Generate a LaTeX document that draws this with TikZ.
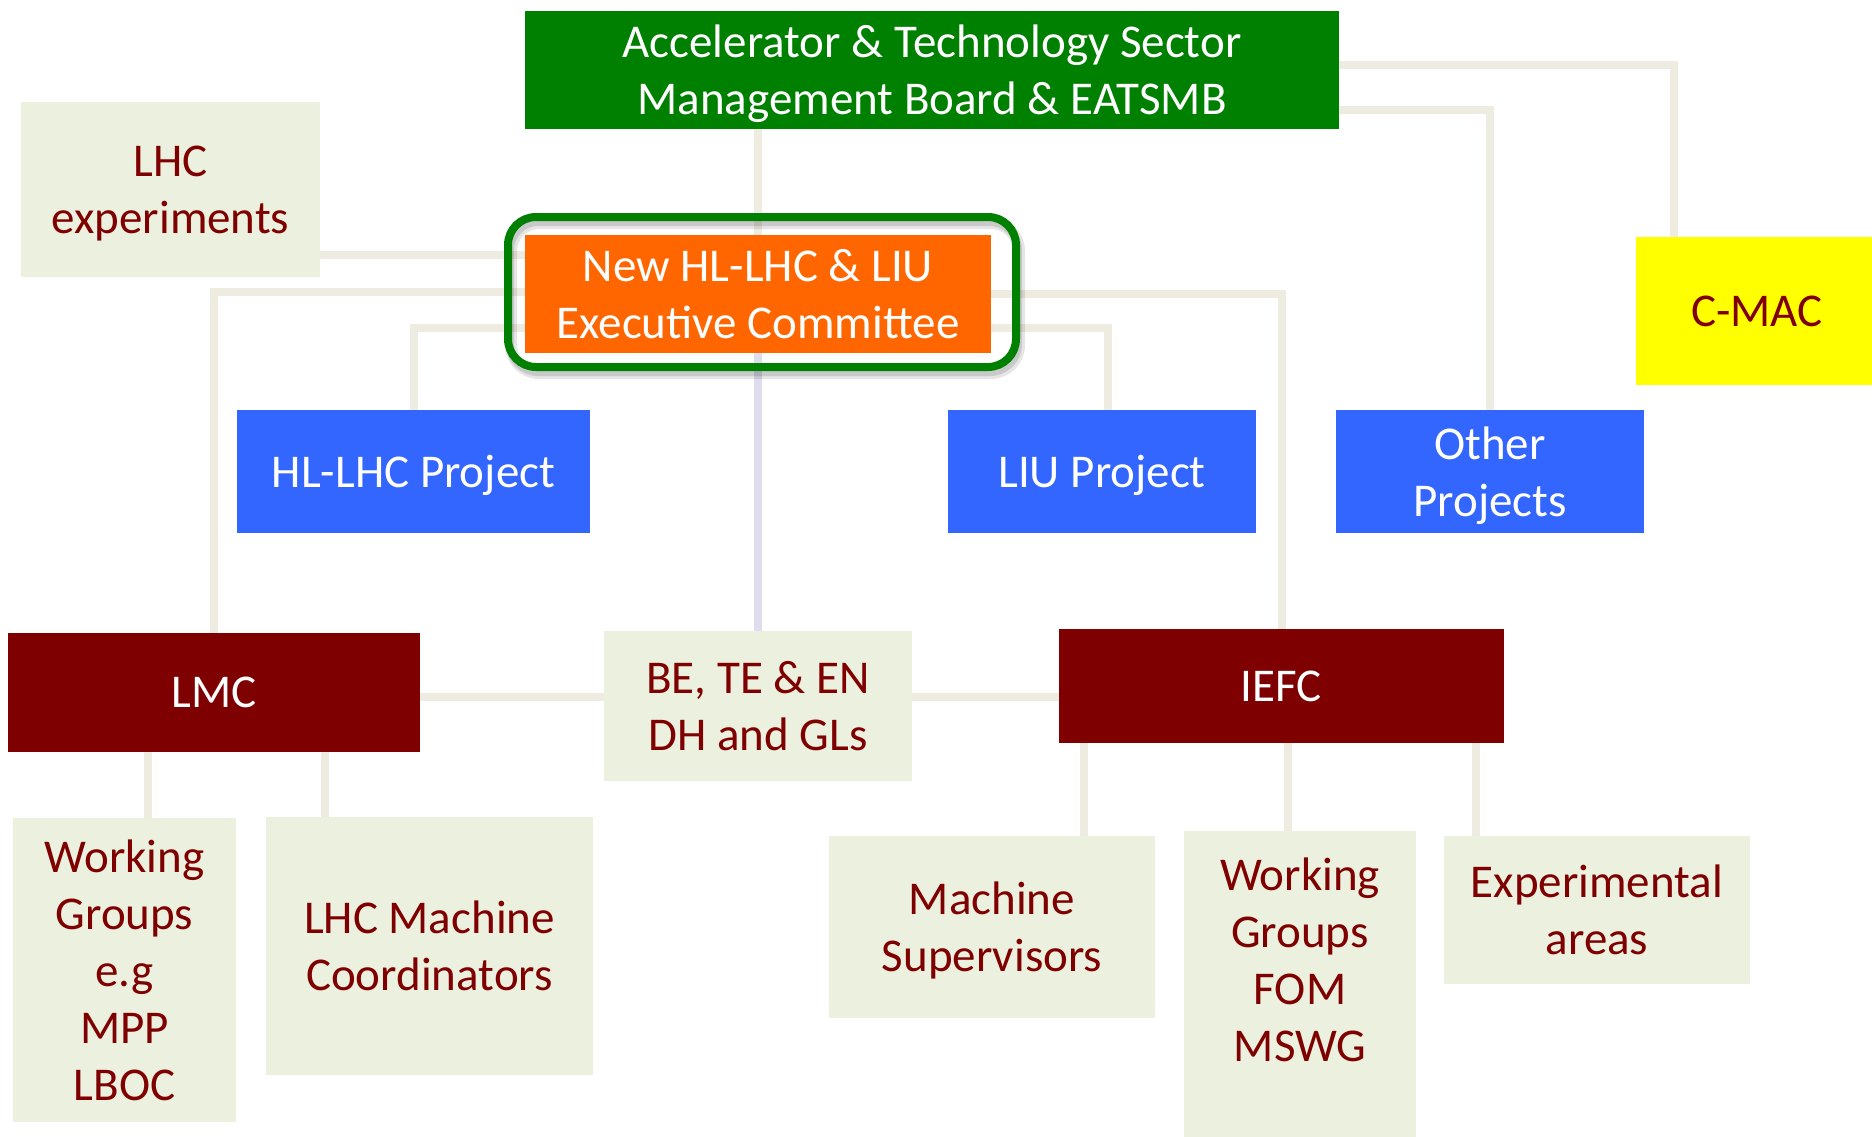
\documentclass[tikz,border=0pt]{standalone}
\usepackage{fontspec}
\setmainfont{Carlito}
\definecolor{conncol}{HTML}{EEECE1}
\definecolor{lavcol}{HTML}{DEDCEE}
\definecolor{lightfill}{HTML}{EBF0DF}
\definecolor{darkred}{HTML}{7F0000}
\definecolor{boardgreen}{HTML}{008000}
\definecolor{execorange}{HTML}{FF6600}
\definecolor{projblue}{HTML}{3366FF}
\definecolor{cmacyellow}{HTML}{FFFF00}
\newcommand\nodescender[1]{\raisebox{0pt}[\height][0pt]{#1}}
\tikzset{
  basebox/.style={rectangle, inner sep=0pt, align=center, font=\fontsize{47}{57}\selectfont},
  lightbox/.style={basebox, fill=lightfill, text=darkred},
  redbox/.style={basebox, fill=darkred, text=white},
  bluebox/.style={basebox, fill=projblue, text=white},
  greenbox/.style={basebox, fill=boardgreen, text=white},
  orangebox/.style={basebox, fill=execorange, text=white},
  conn/.style={draw=conncol, line width=8pt},
  lavconn/.style={draw=lavcol, line width=8pt},
}
\begin{document}
\begin{tikzpicture}[x=1pt,y=-1pt]
\useasboundingbox (0,0) rectangle (1872,1137);
\clip (0,0) rectangle (1872,1137);
\fill[white] (0,0) rectangle (1872,1137);
% helper coordinates
\coordinate (xc) at (1674,0);
\coordinate (hy) at (0,697);
\coordinate (xa) at (148,0);
\coordinate (xb) at (325,0);
\coordinate (xd) at (1084,0);
\coordinate (xe) at (1288,0);
\coordinate (xf) at (1476,0);
\coordinate (xg) at (1108,0);
% boxes
\node[greenbox, minimum width=814, minimum height=118] (green) at (932,70) {Accelerator \& Technology Sector\\\nodescender{Management Board \& EATSMB}};
\node[lightbox, minimum width=299, minimum height=175] (lhcexp) at (170.5,189.5) {LHC\\\nodescender{experiments}};
\node[orangebox, minimum width=466, minimum height=118] (orange) at (758,294) {New HL-LHC \& LIU\\Executive Committee};
\node[basebox, fill=cmacyellow, text=darkred, minimum width=242, minimum height=148] (cmac) at (1757,311) {C-MAC};
\node[bluebox, minimum width=353, minimum height=123] (hllhc) at (413.5,471.5) {\nodescender{HL-LHC Project}};
\node[bluebox, minimum width=308, minimum height=123] (liu) at (1102,471.5) {\nodescender{LIU Project}};
\node[bluebox, minimum width=308, minimum height=123] (other) at (1490,471.5) {Other\\\nodescender{Projects}};
\node[redbox, minimum width=412, minimum height=119] (lmc) at (214,692.5) {LMC};
\node[lightbox, minimum width=308, minimum height=150] (be) at (758,706) {BE, TE \& EN\\DH and GLs};
\node[redbox, minimum width=445, minimum height=114] (iefc) at (1281.5,686) {IEFC};
\node[lightbox, minimum width=223, minimum height=304] (wg1) at (124.5,970) {Working\\Groups\\e.g\\MPP\\LBOC};
\node[lightbox, minimum width=327, minimum height=258] (lhcmc) at (429.5,946) {LHC Machine\\Coordinators};
\node[lightbox, minimum width=326, minimum height=182] (msup) at (992,927) {Machine\\\nodescender{Supervisors}};
\node[lightbox, minimum width=232, minimum height=310] (wg2) at (1300,986) {Working\\Groups\\FOM\\MSWG\\[-5pt]\mbox{}};
\node[lightbox, minimum width=306, minimum height=148] (exp) at (1597,910) {Experimental\\areas};
% connectors
\path[conn] (green.south -| orange.north) -- (orange.north);
\path[conn] ([yshift=5pt]green.east) -| (cmac.north -| xc);
\path[conn] ([yshift=-40pt]green.east) -| (other.north);
\path[conn] ([yshift=-65.5pt]lhcexp.east) -- ([yshift=-65.5pt]lhcexp.east -| orange.west);
\path[conn] ([yshift=2pt]orange.west) -| (lmc.north);
\path[conn] ([yshift=-34pt]orange.west) -| (hllhc.north);
\path[conn] (orange.east) -| (iefc.north);
\path[conn] ([yshift=-34pt]orange.east) -| (liu.north -| xg);
\path[lavconn] (orange.south) -- (be.north);
\path[conn] (lmc.east |- hy) -- (be.west |- hy);
\path[conn] (be.east |- hy) -- (iefc.west |- hy);
\path[conn] (lmc.south -| xa) -- (wg1.north -| xa);
\path[conn] (lmc.south -| xb) -- (lhcmc.north -| xb);
\path[conn] (iefc.south -| xd) -- (msup.north -| xd);
\path[conn] (iefc.south -| xe) -- (wg2.north -| xe);
\path[conn] (iefc.south -| xf) -- (exp.north -| xf);
% redraw boxes that connectors cross
\node[greenbox, minimum width=814, minimum height=118] at (green) {Accelerator \& Technology Sector\\\nodescender{Management Board \& EATSMB}};
\node[lightbox, minimum width=299, minimum height=175] at (lhcexp) {LHC\\\nodescender{experiments}};
\node[orangebox, minimum width=466, minimum height=118] at (orange) {New HL-LHC \& LIU\\Executive Committee};
% frame with soft shadow
\node[draw=black, draw opacity=0.10, line width=12pt, rounded corners=28pt, minimum width=508, minimum height=150] (shadowframe) at (765,298) {};
\node[draw=black, draw opacity=0.12, line width=8pt, rounded corners=28pt, minimum width=508, minimum height=150] (shadowframeb) at (764,297) {};
\node[draw=boardgreen, line width=8pt, rounded corners=28pt, minimum width=508, minimum height=150] (frame) at (762,292) {};
\end{tikzpicture}
\end{document}
